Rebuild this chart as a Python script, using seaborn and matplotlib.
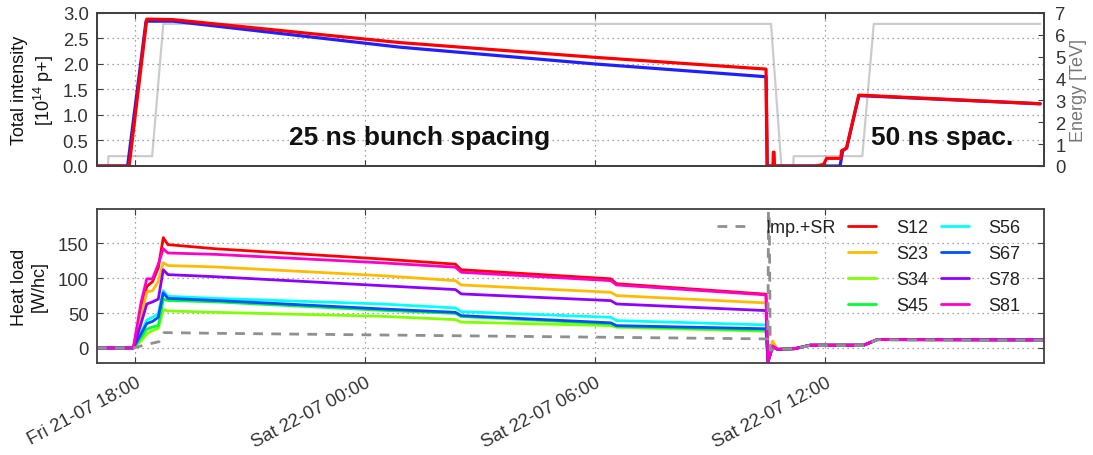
import numpy as np
import pandas as pd
import matplotlib
matplotlib.use("Agg")
import matplotlib.pyplot as plt
import seaborn as sns
from matplotlib.lines import Line2D

# ---------------- data (hours since Fri 21-07 17:00) ----------------
tick_hours = [1, 7, 13, 19]
tick_labels = ["Fri 21-07 18:00", "Sat 22-07 00:00", "Sat 22-07 06:00", "Sat 22-07 12:00"]

energy_h = [0, 0.29, 0.30, 1.44, 1.73, 17.58, 17.85, 18.16, 18.17, 19.96, 20.26, 24.6]
energy_tev = [0, 0, 0.45, 0.45, 6.5, 6.5, 0, 0, 0.45, 0.45, 6.5, 6.5]

b1_h = [0, 0.84, 1.30, 1.98, 7.9, 13.0, 17.45, 17.48, 17.63, 17.64, 17.66, 17.67,
        18.74, 18.95, 19.03, 19.40, 19.42, 19.55, 19.87, 24.6]
b1_int = [0, 0, 2.88, 2.87, 2.42, 2.13, 1.90, 0, 0, 0.27, 0.27, 0,
          0, 0.03, 0.15, 0.15, 0.30, 0.35, 1.39, 1.22]

b2_h = [0, 0.80, 1.28, 1.98, 7.9, 13.0, 17.45, 17.48, 19.38, 19.45, 19.55, 19.87, 24.6]
b2_int = [0, 0, 2.84, 2.84, 2.33, 2.00, 1.75, 0, 0, 0.30, 0.35, 1.38, 1.22]

hl_h = [0, 0.95, 1.15, 1.30, 1.45, 1.60, 1.73, 1.85, 3.1, 7.4, 9.35, 9.5, 13.4, 13.55,
        17.45, 17.5, 17.62, 17.75, 18.2, 18.6, 20.0, 20.35, 24.7]
S12 = [0, 0, 55, 88, 95, 115, 158, 148, 142, 127.5, 120, 112, 99, 92, 77, -20, 3, -2, -1, 4, 4, 12, 11.5]
S23 = [0, 0, 45, 80, 82, 95, 122, 118, 116, 103.6, 96.4, 90.2, 79.7, 75, 64.5, -20, 10, -2, -1, 4, 4, 12, 11.5]
S34 = [0, 0, 10, 20, 25, 28, 55, 53, 51, 45.4, 40.6, 37, 32, 29.6, 24, -20, 2, -2, -1, 4, 4, 12, 11.5]
S45 = [0, 0, 15, 27, 30, 32, 70, 68, 66, 54, 49.5, 45, 34.5, 31, 25.5, -20, 2, -2, -1, 4, 4, 12, 11.5]
S56 = [0, 0, 22, 40, 44, 49, 82, 74, 71, 63, 57.3, 52, 43.9, 39.2, 33, -20, 2, -2, -1, 4, 4, 12, 11.5]
S67 = [0, 0, 20, 35, 38, 44, 79, 71, 68, 56, 51, 46.3, 36, 32, 27.5, -20, 2, -2, -1, 4, 4, 12, 11.5]
S78 = [0, 0, 35, 63, 66, 70, 112, 105, 102, 89.3, 83.6, 77.4, 67.8, 63, 53.5, -20, 2, -2, -1, 4, 4, 12, 11.5]
S81 = [0, 0, 65, 99, 99, 120, 142, 136, 134, 122, 115.6, 108.4, 96.4, 90.2, 76, -20, 3, -2, -1, 4, 4, 12, 11.5]

imp_h = [0, 0.95, 1.3, 1.62, 1.70, 1.75, 3.1, 7.4, 17.45, 17.50, 17.52, 17.56, 17.75, 18.2, 18.6, 20.0, 20.35, 24.7]
imp_val = [0, 0, 5, 9, 15, 22, 21, 18.6, 13, 13, 300, -3, -2, -1, 3.5, 3.5, 11.5, 11]

sectors = ["S12", "S23", "S34", "S45", "S56", "S67", "S78", "S81"]
sector_vals = [S12, S23, S34, S45, S56, S67, S78, S81]
sector_colors = ["#ff0000", "#ffbb00", "#80ff00", "#00ff30", "#00ffff", "#0050ff", "#9000ff", "#ff00cc"]

# ---------------- style ----------------
sns.set_style("white")
plt.rcParams["font.family"] = ["Liberation Sans", "DejaVu Sans"]
plt.rcParams["font.size"] = 13
plt.rcParams["mathtext.default"] = "regular"

spine_c = "#404040"
tick_c = "#333333"
fs = 13.3
grid_kw = dict(ls=(0, (1, 3)), color="#888888", lw=0.9)

fig = plt.figure(figsize=(10.93, 4.56), dpi=100)
ax1 = fig.add_axes([0.0887, 0.6338, 0.8665, 0.3355])
ax2 = fig.add_axes([0.0887, 0.2018, 0.8665, 0.3377], sharex=ax1)
axE = ax1.twinx()
ax1.set_zorder(axE.get_zorder() + 1)
ax1.patch.set_visible(False)

# ---------------- top panel ----------------
sns.lineplot(x=energy_h, y=energy_tev, ax=axE, color="#cccccc", lw=1.6,
             estimator=None, sort=False)
sns.lineplot(x=b2_h, y=b2_int, ax=ax1, color="#2020ff", lw=2.3, estimator=None, sort=False)
sns.lineplot(x=b1_h, y=b1_int, ax=ax1, color="#ff0000", lw=2.3, estimator=None, sort=False)

ax1.set_xlim(0, 24.7)
ax1.set_ylim(0, 3.0)
ax1.set_yticks(np.arange(0, 3.01, 0.5))
ax1.set_yticklabels([f"{v:.1f}" for v in np.arange(0, 3.01, 0.5)])
axE.set_ylim(0, 7)
axE.set_yticks(range(0, 8))
ax1.set_ylabel("Total intensity\n[10$^{14}$ p+]", fontsize=13, color="#111111", labelpad=5)
axE.set_ylabel("Energy [TeV]", fontsize=13, color="#777777", labelpad=3)
ax1.grid(True, **grid_kw)
ax1.set_xticks(tick_hours)
ax1.tick_params(axis="x", labelbottom=False)

ax1.text(0.341, 0.19, "25 ns bunch spacing", transform=ax1.transAxes, ha="center",
         va="center", fontsize=19, fontweight="bold", color="#111111")
ax1.text(0.892, 0.19, "50 ns spac.", transform=ax1.transAxes, ha="center",
         va="center", fontsize=19, fontweight="bold", color="#111111")

# ---------------- bottom panel ----------------
hl_df = pd.DataFrame({
    "hour": np.tile(hl_h, len(sectors)),
    "load": np.concatenate(sector_vals),
    "sector": np.repeat(sectors, len(hl_h)),
})
sns.lineplot(data=hl_df, x="hour", y="load", hue="sector", hue_order=sectors,
             palette=dict(zip(sectors, sector_colors)), estimator=None, sort=False,
             lw=2.0, legend=False, ax=ax2)
sns.lineplot(x=imp_h, y=imp_val, ax=ax2, color="#909090", lw=2.0,
             linestyle=(0, (3.5, 3)), estimator=None, sort=False)

ax2.set_ylim(-21.5, 199)
ax2.set_yticks([0, 50, 100, 150])
ax2.set_ylabel("Heat load\n[W/hc]", fontsize=13, color="#111111", labelpad=7)
ax2.set_xlabel("")
ax2.grid(True, **grid_kw)
ax2.set_xticks(tick_hours)
ax2.set_xticklabels(tick_labels)
plt.setp(ax2.get_xticklabels(), rotation=28, ha="right", rotation_mode="anchor")

handles = [Line2D([], [], color="#909090", lw=2, ls=(0, (3.5, 3)))]
labels = ["Imp.+SR"]
for _ in range(3):
    handles.append(Line2D([], [], alpha=0))
    labels.append("")
for s, c in zip(sectors, sector_colors):
    handles.append(Line2D([], [], color=c, lw=2))
    labels.append(s)
leg = ax2.legend(handles, labels, ncol=3, loc="upper right", frameon=False,
                 bbox_to_anchor=(1 - 16 / 947, 1 - 3 / 154),
                 fontsize=13, handlelength=1.55, handletextpad=1.1, columnspacing=0.7,
                 labelspacing=0.5, borderaxespad=0.2, borderpad=0.2)
for t in leg.get_texts():
    t.set_color("#222222")

for a in (ax1, ax2, axE):
    for sp in a.spines.values():
        sp.set_color(spine_c)
        sp.set_linewidth(1.3)
    a.set_xlabel("")

ax1.tick_params(direction="in", length=4, top=True, bottom=True, left=True, right=False,
                color=spine_c, labelcolor=tick_c, labelsize=fs, pad=6)
axE.tick_params(direction="in", length=4, right=True, color=spine_c, labelcolor=tick_c,
                labelsize=fs, pad=8)
ax2.tick_params(direction="in", length=4, top=True, bottom=True, left=True, right=True,
                color=spine_c, labelcolor=tick_c, labelsize=fs, pad=6)
ax2.tick_params(axis="x", pad=8)

fig.savefig("out.png", dpi=100)
